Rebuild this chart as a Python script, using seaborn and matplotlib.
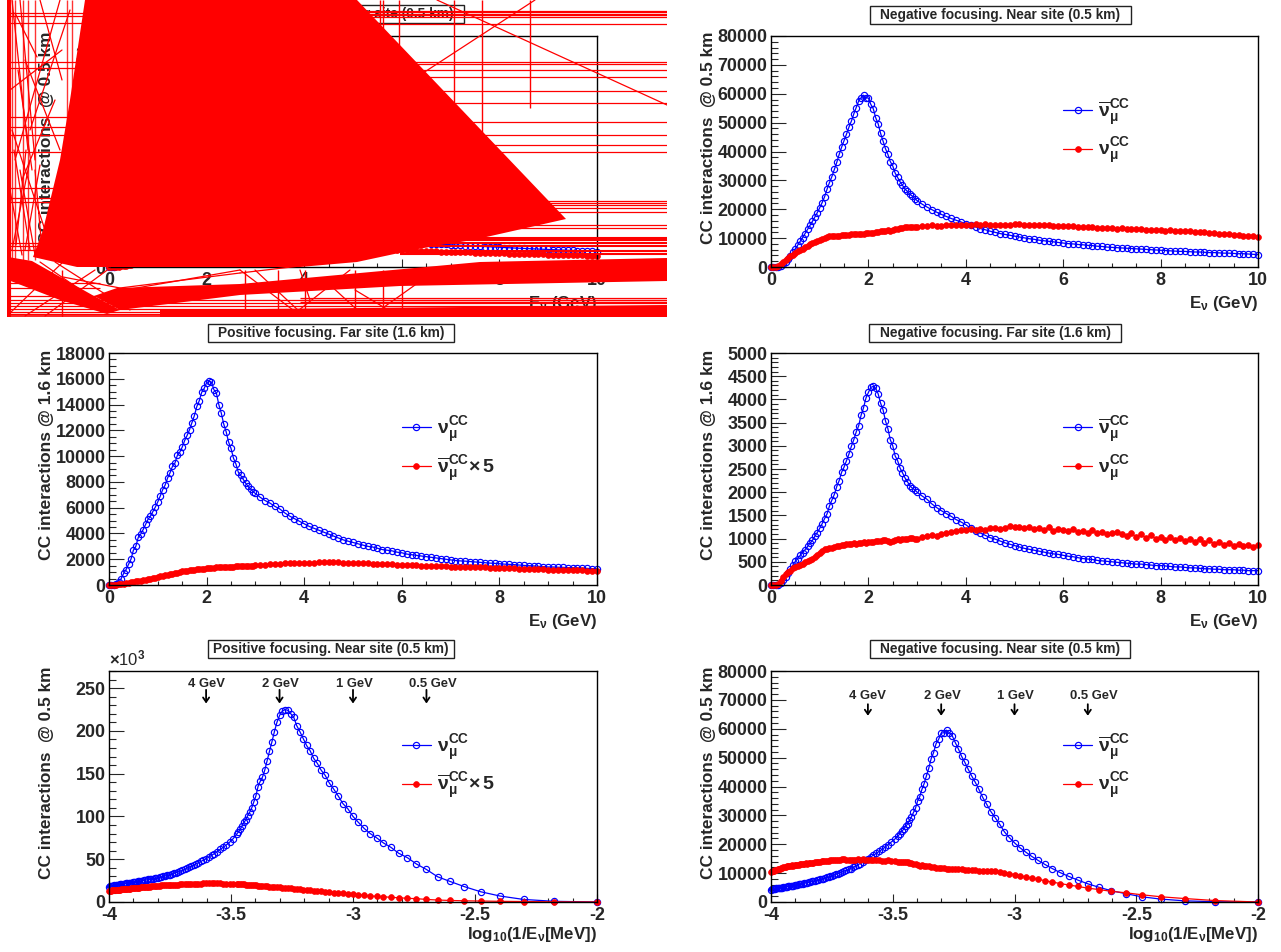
import numpy as np
import seaborn as sns
import matplotlib.pyplot as plt
from matplotlib.patches import Rectangle
from matplotlib.ticker import MultipleLocator, FormatStrFormatter

sns.set_style("white")
plt.rcParams['font.family'] = ['Liberation Sans', 'DejaVu Sans']
plt.rcParams['font.weight'] = 'bold'
plt.rcParams['axes.labelweight'] = 'bold'
plt.rcParams['axes.unicode_minus'] = False
plt.rcParams['mathtext.fontset'] = 'custom'
plt.rcParams['mathtext.rm'] = 'Liberation Sans:bold'
plt.rcParams['mathtext.bf'] = 'Liberation Sans:bold'
plt.rcParams['mathtext.it'] = 'Liberation Sans'
plt.rcParams['mathtext.default'] = 'it'

# neutrino energy of each point (GeV)
energy = [0.0,
          0.05, 0.1, 0.15, 0.2, 0.25, 0.3, 0.35, 0.4, 0.45, 0.5,
          0.55, 0.6, 0.65, 0.7, 0.75, 0.8, 0.85, 0.9, 0.95, 1.0,
          1.05, 1.1, 1.15, 1.2, 1.25, 1.3, 1.35, 1.4, 1.45, 1.5,
          1.55, 1.6, 1.65, 1.7, 1.75, 1.8, 1.85, 1.9, 1.95, 2.0,
          2.05, 2.1, 2.15, 2.2, 2.25, 2.3, 2.35, 2.4, 2.45, 2.5,
          2.55, 2.6, 2.65, 2.7, 2.75, 2.8, 2.85, 2.9, 2.95, 3.0,
          3.1, 3.2, 3.3, 3.4, 3.5, 3.6, 3.7, 3.8, 3.9, 4.0,
          4.1, 4.2, 4.3, 4.4, 4.5, 4.6, 4.7, 4.8, 4.9, 5.0,
          5.1, 5.2, 5.3, 5.4, 5.5, 5.6, 5.7, 5.8, 5.9, 6.0,
          6.1, 6.2, 6.3, 6.4, 6.5, 6.6, 6.7, 6.8, 6.9, 7.0,
          7.1, 7.2, 7.3, 7.4, 7.5, 7.6, 7.7, 7.8, 7.9, 8.0,
          8.1, 8.2, 8.3, 8.4, 8.5, 8.6, 8.7, 8.8, 8.9, 9.0,
          9.1, 9.2, 9.3, 9.4, 9.5, 9.6, 9.7, 9.8, 9.9, 10.0]

# positive focusing, near site
pos_near_numu = [0,
                 0, 0, 800, 3000, 7000, 12000, 18000, 24000, 29500, 38000,
                 44500, 52000, 57000, 64000, 69000, 75000, 80000, 86000, 93000, 100000,
                 109000, 115000, 124000, 132000, 139000, 148000, 154000, 162000, 168000, 177000,
                 183000, 191000, 199000, 206000, 216000, 220000, 224000, 225000, 223000, 218000,
                 210000, 199000, 187000, 176000, 165000, 154000, 146000, 141000, 135000, 124000,
                 117000, 110000, 105000, 101000, 96000, 93000, 89000, 85000, 82000, 79000,
                 74000, 70000, 67000, 64000, 61500, 59000, 56500, 54500, 52500, 50500,
                 49000, 47500, 46000, 44500, 43000, 41800, 40500, 39300, 38200, 37000,
                 36000, 35200, 34400, 33600, 32800, 32000, 31500, 31000, 30500, 30000,
                 29500, 29000, 28500, 28000, 27600, 27200, 26900, 26600, 26300, 26000,
                 25600, 25300, 25000, 24700, 24400, 24100, 23800, 23500, 23200, 23000,
                 22700, 22400, 22200, 22000, 21700, 21400, 21200, 21000, 20700, 20500,
                 20200, 20000, 19800, 19600, 19400, 19100, 18900, 18600, 18300, 18000]
pos_near_anti_x5 = [0,
                    0, 0, 200, 500, 800, 1100, 1400, 1800, 2300, 3000,
                    3900, 4300, 5000, 5400, 6200, 6600, 7000, 7800, 8500, 9300,
                    9700, 10200, 10600, 11000, 11500, 11900, 12400, 12900, 13300, 13800,
                    14200, 14600, 15000, 15400, 15700, 16000, 16300, 16600, 16800, 17000,
                    17300, 17500, 17800, 18100, 18400, 18600, 18800, 19000, 19200, 19500,
                    19600, 19800, 20000, 20100, 20300, 20500, 20600, 20700, 20800, 21000,
                    21100, 21300, 21500, 21600, 21800, 21800, 21900, 21800, 21800, 21700,
                    21700, 21600, 21600, 21500, 21300, 21300, 21200, 21100, 20800, 20500,
                    20500, 20400, 20300, 20200, 20000, 20000, 19900, 19800, 19700, 19500,
                    19300, 19100, 18900, 18700, 18500, 18300, 18200, 18100, 17900, 17800,
                    17600, 17400, 17200, 17000, 16800, 16600, 16500, 16300, 16200, 16000,
                    15900, 15700, 15600, 15400, 15300, 15100, 15000, 14800, 14700, 14500,
                    14400, 14200, 14100, 13900, 13800, 13600, 13500, 13300, 13200, 13000]

# negative focusing, near site
neg_near_anti = [0,
                 0, 0, 100, 400, 1000, 1800, 2900, 3900, 5100, 6300,
                 7600, 8900, 10200, 11600, 13000, 14400, 15800, 17300, 18800, 20500,
                 22300, 24300, 26900, 29200, 31300, 33800, 36200, 39000, 41500, 43700,
                 46000, 48400, 50500, 53000, 55200, 57500, 58600, 59500, 58600, 58500,
                 56300, 54800, 51700, 49600, 46300, 43700, 41000, 39000, 36500, 35000,
                 32500, 31000, 29500, 28300, 27000, 26200, 25200, 24600, 23700, 23000,
                 21800, 20800, 19900, 19000, 18200, 17500, 16800, 16200, 15600, 15000,
                 14400, 13900, 13300, 12900, 12400, 12000, 11600, 11300, 11000, 10700,
                 10400, 10100, 9800, 9600, 9300, 9100, 8900, 8700, 8500, 8300,
                 8100, 8000, 7800, 7700, 7500, 7400, 7200, 7100, 6900, 6800,
                 6700, 6600, 6500, 6400, 6300, 6200, 6100, 6000, 5900, 5800,
                 5700, 5600, 5500, 5400, 5400, 5300, 5200, 5200, 5100, 5000,
                 5000, 4900, 4800, 4800, 4700, 4600, 4600, 4500, 4400, 4300]
neg_near_numu = [0,
                 0, 0, 500, 1200, 1800, 2500, 3200, 3700, 4300, 4800,
                 5400, 5900, 6400, 6900, 7400, 7900, 8300, 8700, 9100, 9500,
                 9800, 10200, 10500, 10600, 10700, 10800, 10800, 10900, 11000, 11000,
                 11100, 11200, 11300, 11400, 11400, 11500, 11500, 11600, 11700, 11700,
                 11800, 11900, 12000, 12200, 12400, 12300, 12500, 12700, 12600, 12900,
                 13100, 13300, 13500, 13600, 13700, 13700, 13800, 13800, 13900, 14000,
                 14100, 14300, 14400, 14200, 14300, 14400, 14500, 14600, 14600, 14700,
                 14700, 14800, 14700, 14800, 14700, 14600, 14700, 14700, 14600, 14800,
                 14900, 14700, 14600, 14500, 14400, 14400, 14500, 14300, 14300, 14100,
                 14100, 14200, 14000, 13900, 13700, 13700, 13600, 13600, 13400, 13500,
                 13300, 13400, 13200, 13300, 13000, 13100, 12900, 12800, 12700, 12700,
                 12600, 12700, 12500, 12400, 12500, 12300, 12200, 12000, 12100, 11800,
                 11700, 11600, 11500, 11300, 11200, 11000, 10800, 10900, 10600, 10300]

# positive focusing, far site
pos_far_numu = [0,
                0, 0, 50, 200, 500, 900, 1200, 1600, 2000, 2700,
                3000, 3700, 3950, 4300, 4700, 5100, 5350, 5700, 6050, 6450,
                6900, 7400, 7750, 8300, 8700, 9200, 9450, 10050, 10300, 10700,
                11200, 11600, 12050, 12600, 13150, 13850, 14300, 14950, 15250, 15700,
                15800, 15750, 15150, 14900, 14000, 13350, 12500, 11900, 11100, 10600,
                9850, 9400, 8750, 8500, 8200, 7900, 7650, 7450, 7250, 7100,
                6800, 6550, 6350, 6100, 5900, 5600, 5350, 5150, 4950, 4750,
                4550, 4400, 4250, 4100, 3950, 3800, 3650, 3500, 3400, 3300,
                3200, 3100, 3000, 2950, 2850, 2750, 2700, 2650, 2550, 2500,
                2400, 2350, 2300, 2250, 2200, 2150, 2100, 2050, 2000, 1950,
                1900, 1870, 1850, 1820, 1790, 1760, 1730, 1700, 1680, 1650,
                1620, 1600, 1580, 1550, 1520, 1500, 1480, 1450, 1430, 1400,
                1400, 1380, 1370, 1350, 1340, 1320, 1300, 1290, 1270, 1250]
pos_far_anti_x5 = [0,
                   0, 10, 30, 50, 70, 100, 130, 160, 200, 250,
                   280, 310, 340, 370, 400, 430, 470, 510, 560, 620,
                   670, 720, 770, 810, 850, 890, 930, 960, 1000, 1050,
                   1080, 1110, 1140, 1170, 1200, 1220, 1240, 1260, 1280, 1300,
                   1320, 1330, 1350, 1360, 1380, 1390, 1400, 1410, 1410, 1420,
                   1430, 1440, 1450, 1460, 1470, 1480, 1490, 1500, 1510, 1520,
                   1540, 1570, 1600, 1630, 1660, 1680, 1690, 1700, 1710, 1730,
                   1730, 1740, 1750, 1760, 1780, 1790, 1760, 1740, 1720, 1700,
                   1700, 1690, 1670, 1660, 1650, 1630, 1610, 1600, 1580, 1550,
                   1550, 1530, 1520, 1500, 1490, 1480, 1470, 1460, 1440, 1420,
                   1420, 1410, 1410, 1400, 1380, 1380, 1370, 1350, 1340, 1330,
                   1320, 1310, 1290, 1280, 1270, 1250, 1250, 1230, 1220, 1200,
                   1200, 1190, 1170, 1170, 1150, 1140, 1140, 1120, 1110, 1100]

# negative focusing, far site
neg_far_anti = [0,
                0, 0, 10, 40, 100, 180, 260, 350, 430, 510,
                570, 640, 700, 760, 830, 900, 960, 1050, 1130, 1220,
                1320, 1430, 1530, 1700, 1830, 1950, 2120, 2250, 2430, 2540,
                2680, 2820, 2990, 3130, 3300, 3430, 3660, 3820, 4030, 4150,
                4260, 4280, 4240, 4120, 3920, 3780, 3540, 3370, 3130, 3000,
                2780, 2680, 2520, 2420, 2310, 2230, 2140, 2090, 2050, 2000,
                1920, 1850, 1750, 1670, 1600, 1540, 1480, 1410, 1360, 1300,
                1220, 1170, 1120, 1070, 1020, 990, 950, 910, 880, 850,
                820, 790, 770, 750, 730, 710, 690, 670, 660, 640,
                620, 610, 590, 570, 560, 550, 530, 520, 510, 500,
                490, 480, 470, 460, 450, 450, 440, 430, 420, 420,
                410, 400, 390, 390, 380, 370, 370, 360, 350, 350,
                340, 340, 330, 330, 330, 320, 320, 310, 310, 310]
neg_far_numu = [0,
                0, 0, 20, 90, 180, 230, 270, 300, 360, 390,
                420, 440, 460, 500, 520, 540, 570, 600, 640, 680,
                740, 770, 780, 790, 800, 820, 830, 840, 860, 870,
                880, 880, 890, 900, 890, 900, 910, 920, 910, 920,
                930, 920, 940, 950, 940, 970, 960, 950, 930, 950,
                980, 1000, 980, 1000, 990, 1000, 1020, 1010, 1000, 1000,
                1040, 1060, 1070, 1060, 1100, 1110, 1140, 1170, 1180, 1180,
                1200, 1190, 1210, 1190, 1220, 1230, 1210, 1220, 1280, 1240,
                1260, 1230, 1250, 1200, 1220, 1190, 1240, 1170, 1200, 1180,
                1160, 1200, 1140, 1170, 1130, 1180, 1110, 1150, 1090, 1120,
                1140, 1100, 1060, 1110, 1040, 1090, 1020, 1070, 1000, 1030,
                980, 1040, 970, 1010, 950, 990, 930, 1000, 910, 960,
                880, 930, 860, 910, 840, 890, 830, 870, 820, 870]

marker_labels = ['4 GeV', '2 GeV', '1 GeV', '0.5 GeV']
marker_energy = [4, 2, 1, 0.5]
marker_text_shift = [0.0, 0.005, 0.005, 0.025]

blob_x = [85, 70, 60, 43, 33, 77, 133, 300, 357, 413, 440, 473, 566, 357]
blob_y = [0, 100, 160, 230, 257, 267, 267, 267, 262, 250, 245, 240, 219, 0]
wedge_x = [8, 32, 94, 120, 107, 60, 8]
wedge_y = [257, 261, 296, 310, 314, 300, 280]
band_x = [94, 117, 240, 480, 667, 667, 400, 240, 120]
band_y = [296, 288, 284, 262, 258, 281, 286, 295, 310]
floor_x = [160, 667, 667, 160]
floor_y = [310, 305, 317, 317]
right_lines = [11, 12, 14, 15.5, 17, 24, 62, 64, 70, 77, 91, 103, 122, 135, 145, 152,
               201, 203, 205, 208, 212, 225, 228, 298, 300, 302]
right_thick = [238, 240.5, 243, 246.5, 251, 254]
left_lines = [13, 16, 23, 62, 68, 117, 127, 135, 152, 188, 198, 202, 243, 246, 250,
              283, 288, 296]
bottom_lines = [300, 303, 306, 309, 312, 314]
top_verticals = [380, 383, 399, 454, 482, 530]
top_vertical_ends = [40, 40, 60, 110, 135, 108]
left_verticals = [12, 15, 23, 28, 35, 67, 72]
low_verticals = [62, 245, 278, 305, 355, 383, 402]
junk_segments = [(437, 0, 667, 105), (535, 0, 420, 75), (20, 0, 35, 160), (12, 0, 28, 150),
                 (60, 0, 15, 160), (15, 13, 37, 57), (40, 0, 62, 80), (70, 10, 30, 130),
                 (10, 90, 62, 50), (25, 60, 60, 150), (18, 70, 32, 170), (55, 100, 22, 180),
                 (12, 130, 45, 230), (30, 160, 12, 250), (20, 170, 35, 255), (40, 165, 25, 250),
                 (14, 150, 30, 250), (26, 150, 16, 245), (35, 170, 42, 250), (10, 190, 22, 255),
                 (10, 313, 62, 263), (25, 316, 95, 270), (45, 316, 110, 268), (62, 300, 93, 300),
                 (40, 262, 95, 300), (55, 262, 130, 310), (240, 270, 293, 310), (255, 270, 300, 312),
                 (330, 285, 365, 317), (355, 290, 400, 317), (125, 290, 240, 270), (370, 317, 415, 285),
                 (290, 317, 350, 270), (300, 270, 310, 300), (63, 277, 120, 288), (120, 288, 240, 273),
                 (240, 273, 300, 266)]

# image size and panel frames in pixels: left, top, right, bottom
W, H = 1281, 952
frames = {'pos_near': (109, 36, 597, 267), 'neg_near': (771, 36, 1258, 267),
          'pos_far': (109, 353, 597, 585), 'neg_far': (771, 353, 1258, 585),
          'pos_log': (109, 671, 597, 902), 'neg_log': (771, 671, 1258, 902)}
BLUE = '#0000ff'
RED = '#ff0000'
numu = r'$\mathbf{\nu}_{\mathit{\mu}}^{\mathbf{CC}}$'
anti = r'$\overline{\mathbf{\nu}}_{\mathit{\mu}}^{\mathbf{CC}}$'
anti_x5 = anti + r'$\times\,$5'
legend_spot = (0.6, 0.733)

fig = plt.figure(figsize=(W / 100, H / 100), dpi=100)


def title_box(text, left, top, right, bottom):
    fig.add_artist(Rectangle((left / W, 1 - bottom / H), (right - left) / W, (bottom - top) / H,
                             transform=fig.transFigure, facecolor='white',
                             edgecolor='#222222', linewidth=1))
    fig.text((left + right) / 2 / W, 1 - (top + bottom) / 2 / H, text, fontsize=9.9,
             ha='center', va='center')


def panel(frame, x_blue, y_blue, x_red, y_red, lab_blue, lab_red, ylim, ymajor, yminor,
          xlim, xmajor, xminor, xlabel, ylabel, ylabel_size=12.4):
    left, top, right, bottom = frames[frame]
    ax = fig.add_axes([left / W, 1 - bottom / H, (right - left) / W, (bottom - top) / H])
    sns.lineplot(x=x_blue, y=y_blue, ax=ax, color=BLUE, marker='o', markerfacecolor='none',
                 markeredgecolor=BLUE, markeredgewidth=0.85, markersize=4.5, linewidth=0.9,
                 label=lab_blue, estimator=None, errorbar=None, clip_on=False)
    sns.lineplot(x=x_red, y=y_red, ax=ax, color=RED, marker='o', markerfacecolor=RED,
                 markeredgecolor=RED, markeredgewidth=0.5, markersize=4.2, linewidth=0.9,
                 label=lab_red, estimator=None, errorbar=None, clip_on=False)
    ax.set_xlim(*xlim)
    ax.set_ylim(*ylim)
    ax.xaxis.set_major_locator(MultipleLocator(xmajor))
    ax.xaxis.set_minor_locator(MultipleLocator(xminor))
    ax.xaxis.set_major_formatter(FormatStrFormatter('%g'))
    ax.yaxis.set_major_locator(MultipleLocator(ymajor))
    ax.yaxis.set_minor_locator(MultipleLocator(yminor))
    ax.tick_params(axis='y', which='major', direction='in', length=10.5, width=0.8, left=True,
                   pad=2.5, labelsize=12.9)
    ax.tick_params(axis='y', which='minor', direction='in', length=5.2, width=0.8, left=True)
    ax.tick_params(axis='x', which='major', direction='in', length=5.5, width=0.8, bottom=True,
                   pad=3.5, labelsize=12.9)
    ax.tick_params(axis='x', which='minor', direction='in', length=2.8, width=0.8, bottom=True)
    for s in ax.spines.values():
        s.set_color('black')
        s.set_linewidth(1.0)
    ax.set_xlabel(xlabel, fontsize=12.2, ha='right')
    ax.xaxis.set_label_coords(1.0, -0.115)
    ax.set_ylabel(ylabel, fontsize=ylabel_size, loc='top')
    ax.yaxis.set_label_coords(-0.113, 1.02 if ylabel_size == 12.4 else 1.012)
    ax.legend(loc='upper left', bbox_to_anchor=legend_spot, frameon=False, fontsize=14,
              handlelength=1.5, handletextpad=0.3, labelspacing=0.44, borderpad=0,
              borderaxespad=0, numpoints=1)
    return ax


def energy_marks(ax, text_y, tip, tail):
    for name, en, shift in zip(marker_labels, marker_energy, marker_text_shift):
        pos = -3 - np.log10(en)
        ax.annotate('', xy=(pos, tip), xytext=(pos, tail),
                    arrowprops=dict(arrowstyle='->,head_width=0.22,head_length=0.32',
                                    color='black', lw=1.3, shrinkA=0, shrinkB=0))
        ax.text(pos + shift, text_y, name, fontsize=9.4, ha='center', va='center')


e = np.array(energy)
low_cut = e >= 0.1
log_e = -3 - np.log10(e[low_cut])

e_label = r'E$_{\mathbf{\nu}}$ (GeV)'
log_label = r'log$_{10}$(1/E$_{\mathbf{\nu}}$[MeV])'

title_box('Positive focusing. Near site (0.5 km)', 208, 5, 464, 23)
title_box('Negative focusing. Near site (0.5 km)', 870, 6, 1131, 24)
title_box('Positive focusing. Far site (1.6 km)', 208, 324, 454, 342)
title_box('Negative focusing. Far site (1.6 km)', 869, 324, 1121, 342)
title_box('Positive focusing. Near site (0.5 km)', 208, 640, 454, 658)
title_box('Negative focusing. Near site (0.5 km)', 870, 640, 1130, 658)

ax_pn = panel('pos_near', e, np.array(pos_near_numu) / 1000, e, np.array(pos_near_anti_x5) / 1000,
              numu, anti_x5, (0, 270), 50, 10, (0, 10), 2, 0.5, e_label, 'CC interactions  @ 0.5 km')
# its legend does not show through the red in the reference
ax_pn.get_legend().remove()
panel('neg_near', e, neg_near_anti, e, neg_near_numu, anti, numu, (0, 80000), 10000, 2000,
      (0, 10), 2, 0.5, e_label, 'CC interactions  @ 0.5 km')
panel('pos_far', e, pos_far_numu, e, pos_far_anti_x5, numu, anti_x5, (0, 18000), 2000, 500,
      (0, 10), 2, 0.5, e_label, 'CC interactions @ 1.6 km', ylabel_size=12.6)
panel('neg_far', e, neg_far_anti, e, neg_far_numu, anti, numu, (0, 5000), 500, 100,
      (0, 10), 2, 0.5, e_label, 'CC interactions @ 1.6 km', ylabel_size=12.6)

ax_pl = panel('pos_log', log_e, np.array(pos_near_numu)[low_cut] / 1000, log_e,
              np.array(pos_near_anti_x5)[low_cut] / 1000, numu, anti_x5, (0, 270), 50, 10,
              (-4, -2), 0.5, 0.1, log_label, 'CC interactions  @ 0.5 km')
ax_pl.xaxis.set_label_coords(1.0, -0.10)
ax_pl.text(0.0, 1.01, r'$\times$10$^{3}$', transform=ax_pl.transAxes, fontsize=12, va='bottom',
           fontweight='normal')
energy_marks(ax_pl, 255, 232, 248)

ax_nl = panel('neg_log', log_e, np.array(neg_near_anti)[low_cut], log_e,
              np.array(neg_near_numu)[low_cut], anti, numu, (0, 80000), 10000, 2000,
              (-4, -2), 0.5, 0.1, log_label, 'CC interactions  @ 0.5 km')
ax_nl.xaxis.set_label_coords(1.0, -0.10)
energy_marks(ax_nl, 71500, 64500, 68500)

# the red scribble that sits on top of the first panel
junk = fig.add_axes([7 / W, 1 - 317 / H, 660 / W, 317 / H], zorder=10)
junk.set_xlim(7, 667)
junk.set_ylim(317, 0)
junk.axis('off')
junk.patch.set_alpha(0)
for xs, ys in [(blob_x, blob_y), (wedge_x, wedge_y), (band_x, band_y), (floor_x, floor_y)]:
    junk.fill(xs, ys, color=RED, linewidth=0)
junk.hlines(right_lines, 300, 667, color=RED, linewidth=0.9)
junk.hlines(right_thick, 400, 667, color=RED, linewidth=1.5)
junk.hlines(left_lines, 7, 100, color=RED, linewidth=0.9)
junk.hlines(bottom_lines, 7, 667, color=RED, linewidth=0.9)
junk.vlines(top_verticals, 0, top_vertical_ends, color=RED, linewidth=1.0)
junk.vlines(left_verticals, 0, 260, color=RED, linewidth=1.0, alpha=0.8)
junk.vlines(low_verticals, 270, 317, color=RED, linewidth=1.0)
junk.vlines([8.5], 0, 317, color=RED, linewidth=3)
junk.hlines([316], 7, 667, color=RED, linewidth=1.2)
for x0, y0, x1, y1 in junk_segments:
    junk.plot([x0, x1], [y0, y1], color=RED, linewidth=0.9)

fig.savefig('out.png', dpi=100)
